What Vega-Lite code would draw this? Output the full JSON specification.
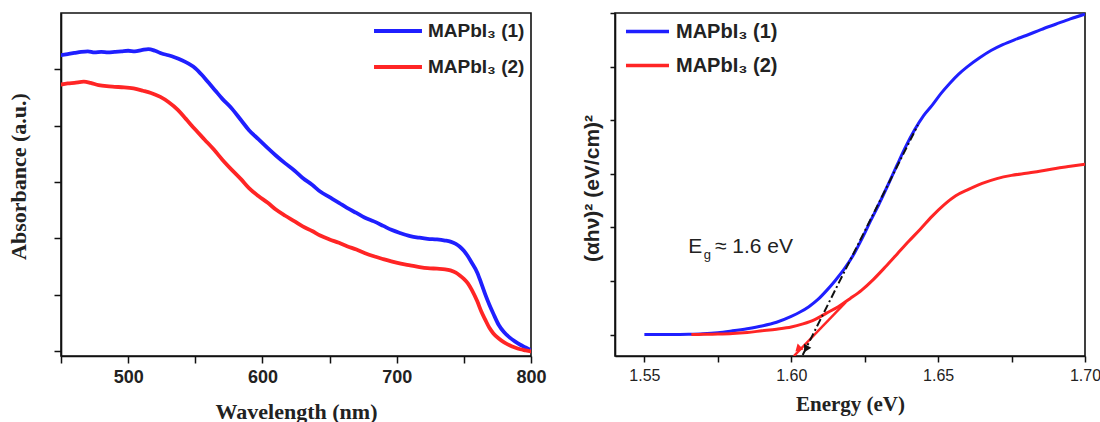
{
  "$schema": "https://vega.github.io/schema/vega-lite/v6.json",
  "background": "white",
  "padding": {"left": 6, "top": 4, "right": 0, "bottom": 0},
  "spacing": 33,
  "config": {
    "view": {"stroke": "#111", "strokeWidth": 1.6},
    "axis": {"domainColor": "#111", "tickColor": "#111", "domainWidth": 1.6, "tickWidth": 1.5, "grid": false, "labelColor": "#222", "titleColor": "#222", "labelFlush": false}
  },
  "resolve": {"scale": {"color": "independent"}, "legend": {"color": "independent"}},
  "datasets": {
    "abs": [
      {"wl":450,"a":5.25,"s":"MAPbI₃ (1)"},{"wl":455,"a":5.27,"s":"MAPbI₃ (1)"},{"wl":460,"a":5.29,"s":"MAPbI₃ (1)"},{"wl":465,"a":5.31,"s":"MAPbI₃ (1)"},{"wl":470,"a":5.32,"s":"MAPbI₃ (1)"},{"wl":475,"a":5.30,"s":"MAPbI₃ (1)"},{"wl":480,"a":5.31,"s":"MAPbI₃ (1)"},{"wl":485,"a":5.30,"s":"MAPbI₃ (1)"},{"wl":490,"a":5.31,"s":"MAPbI₃ (1)"},{"wl":495,"a":5.32,"s":"MAPbI₃ (1)"},{"wl":500,"a":5.33,"s":"MAPbI₃ (1)"},{"wl":505,"a":5.32,"s":"MAPbI₃ (1)"},{"wl":510,"a":5.34,"s":"MAPbI₃ (1)"},{"wl":515,"a":5.36,"s":"MAPbI₃ (1)"},{"wl":520,"a":5.33,"s":"MAPbI₃ (1)"},{"wl":525,"a":5.28,"s":"MAPbI₃ (1)"},{"wl":530,"a":5.25,"s":"MAPbI₃ (1)"},{"wl":535,"a":5.21,"s":"MAPbI₃ (1)"},{"wl":540,"a":5.16,"s":"MAPbI₃ (1)"},{"wl":545,"a":5.10,"s":"MAPbI₃ (1)"},{"wl":550,"a":5.02,"s":"MAPbI₃ (1)"},{"wl":555,"a":4.90,"s":"MAPbI₃ (1)"},{"wl":560,"a":4.76,"s":"MAPbI₃ (1)"},{"wl":565,"a":4.62,"s":"MAPbI₃ (1)"},{"wl":570,"a":4.48,"s":"MAPbI₃ (1)"},{"wl":577,"a":4.31,"s":"MAPbI₃ (1)"},{"wl":584,"a":4.10,"s":"MAPbI₃ (1)"},{"wl":590,"a":3.92,"s":"MAPbI₃ (1)"},{"wl":597,"a":3.76,"s":"MAPbI₃ (1)"},{"wl":604,"a":3.60,"s":"MAPbI₃ (1)"},{"wl":610,"a":3.47,"s":"MAPbI₃ (1)"},{"wl":617,"a":3.33,"s":"MAPbI₃ (1)"},{"wl":624,"a":3.20,"s":"MAPbI₃ (1)"},{"wl":630,"a":3.07,"s":"MAPbI₃ (1)"},{"wl":637,"a":2.95,"s":"MAPbI₃ (1)"},{"wl":643,"a":2.83,"s":"MAPbI₃ (1)"},{"wl":650,"a":2.73,"s":"MAPbI₃ (1)"},{"wl":657,"a":2.63,"s":"MAPbI₃ (1)"},{"wl":663,"a":2.54,"s":"MAPbI₃ (1)"},{"wl":670,"a":2.45,"s":"MAPbI₃ (1)"},{"wl":676,"a":2.37,"s":"MAPbI₃ (1)"},{"wl":683,"a":2.30,"s":"MAPbI₃ (1)"},{"wl":690,"a":2.22,"s":"MAPbI₃ (1)"},{"wl":696,"a":2.15,"s":"MAPbI₃ (1)"},{"wl":703,"a":2.09,"s":"MAPbI₃ (1)"},{"wl":710,"a":2.04,"s":"MAPbI₃ (1)"},{"wl":717,"a":2.01,"s":"MAPbI₃ (1)"},{"wl":723,"a":1.99,"s":"MAPbI₃ (1)"},{"wl":730,"a":1.98,"s":"MAPbI₃ (1)"},{"wl":736,"a":1.96,"s":"MAPbI₃ (1)"},{"wl":740,"a":1.94,"s":"MAPbI₃ (1)"},{"wl":744,"a":1.90,"s":"MAPbI₃ (1)"},{"wl":747,"a":1.85,"s":"MAPbI₃ (1)"},{"wl":750,"a":1.78,"s":"MAPbI₃ (1)"},{"wl":753,"a":1.68,"s":"MAPbI₃ (1)"},{"wl":756,"a":1.56,"s":"MAPbI₃ (1)"},{"wl":760,"a":1.39,"s":"MAPbI₃ (1)"},{"wl":763,"a":1.20,"s":"MAPbI₃ (1)"},{"wl":766,"a":1.00,"s":"MAPbI₃ (1)"},{"wl":769,"a":0.82,"s":"MAPbI₃ (1)"},{"wl":772,"a":0.66,"s":"MAPbI₃ (1)"},{"wl":776,"a":0.46,"s":"MAPbI₃ (1)"},{"wl":780,"a":0.33,"s":"MAPbI₃ (1)"},{"wl":784,"a":0.24,"s":"MAPbI₃ (1)"},{"wl":788,"a":0.17,"s":"MAPbI₃ (1)"},{"wl":792,"a":0.11,"s":"MAPbI₃ (1)"},{"wl":796,"a":0.06,"s":"MAPbI₃ (1)"},{"wl":800,"a":0.01,"s":"MAPbI₃ (1)"},
      {"wl":450,"a":4.73,"s":"MAPbI₃ (2)"},{"wl":455,"a":4.75,"s":"MAPbI₃ (2)"},{"wl":460,"a":4.76,"s":"MAPbI₃ (2)"},{"wl":467,"a":4.78,"s":"MAPbI₃ (2)"},{"wl":472,"a":4.76,"s":"MAPbI₃ (2)"},{"wl":478,"a":4.72,"s":"MAPbI₃ (2)"},{"wl":484,"a":4.70,"s":"MAPbI₃ (2)"},{"wl":490,"a":4.69,"s":"MAPbI₃ (2)"},{"wl":497,"a":4.68,"s":"MAPbI₃ (2)"},{"wl":504,"a":4.66,"s":"MAPbI₃ (2)"},{"wl":511,"a":4.62,"s":"MAPbI₃ (2)"},{"wl":517,"a":4.58,"s":"MAPbI₃ (2)"},{"wl":524,"a":4.51,"s":"MAPbI₃ (2)"},{"wl":530,"a":4.42,"s":"MAPbI₃ (2)"},{"wl":537,"a":4.28,"s":"MAPbI₃ (2)"},{"wl":543,"a":4.12,"s":"MAPbI₃ (2)"},{"wl":550,"a":3.93,"s":"MAPbI₃ (2)"},{"wl":557,"a":3.75,"s":"MAPbI₃ (2)"},{"wl":564,"a":3.57,"s":"MAPbI₃ (2)"},{"wl":570,"a":3.40,"s":"MAPbI₃ (2)"},{"wl":577,"a":3.22,"s":"MAPbI₃ (2)"},{"wl":584,"a":3.05,"s":"MAPbI₃ (2)"},{"wl":590,"a":2.89,"s":"MAPbI₃ (2)"},{"wl":597,"a":2.75,"s":"MAPbI₃ (2)"},{"wl":604,"a":2.63,"s":"MAPbI₃ (2)"},{"wl":610,"a":2.51,"s":"MAPbI₃ (2)"},{"wl":617,"a":2.40,"s":"MAPbI₃ (2)"},{"wl":624,"a":2.30,"s":"MAPbI₃ (2)"},{"wl":630,"a":2.21,"s":"MAPbI₃ (2)"},{"wl":637,"a":2.13,"s":"MAPbI₃ (2)"},{"wl":643,"a":2.05,"s":"MAPbI₃ (2)"},{"wl":650,"a":1.98,"s":"MAPbI₃ (2)"},{"wl":657,"a":1.92,"s":"MAPbI₃ (2)"},{"wl":663,"a":1.86,"s":"MAPbI₃ (2)"},{"wl":670,"a":1.80,"s":"MAPbI₃ (2)"},{"wl":676,"a":1.74,"s":"MAPbI₃ (2)"},{"wl":683,"a":1.68,"s":"MAPbI₃ (2)"},{"wl":690,"a":1.63,"s":"MAPbI₃ (2)"},{"wl":696,"a":1.59,"s":"MAPbI₃ (2)"},{"wl":703,"a":1.55,"s":"MAPbI₃ (2)"},{"wl":710,"a":1.52,"s":"MAPbI₃ (2)"},{"wl":717,"a":1.49,"s":"MAPbI₃ (2)"},{"wl":723,"a":1.47,"s":"MAPbI₃ (2)"},{"wl":730,"a":1.46,"s":"MAPbI₃ (2)"},{"wl":736,"a":1.45,"s":"MAPbI₃ (2)"},{"wl":740,"a":1.43,"s":"MAPbI₃ (2)"},{"wl":744,"a":1.39,"s":"MAPbI₃ (2)"},{"wl":747,"a":1.34,"s":"MAPbI₃ (2)"},{"wl":750,"a":1.28,"s":"MAPbI₃ (2)"},{"wl":753,"a":1.20,"s":"MAPbI₃ (2)"},{"wl":756,"a":1.08,"s":"MAPbI₃ (2)"},{"wl":760,"a":0.88,"s":"MAPbI₃ (2)"},{"wl":763,"a":0.70,"s":"MAPbI₃ (2)"},{"wl":766,"a":0.55,"s":"MAPbI₃ (2)"},{"wl":769,"a":0.41,"s":"MAPbI₃ (2)"},{"wl":772,"a":0.31,"s":"MAPbI₃ (2)"},{"wl":776,"a":0.22,"s":"MAPbI₃ (2)"},{"wl":780,"a":0.15,"s":"MAPbI₃ (2)"},{"wl":784,"a":0.10,"s":"MAPbI₃ (2)"},{"wl":788,"a":0.06,"s":"MAPbI₃ (2)"},{"wl":792,"a":0.03,"s":"MAPbI₃ (2)"},{"wl":796,"a":0.01,"s":"MAPbI₃ (2)"},{"wl":800,"a":-0.01,"s":"MAPbI₃ (2)"}
    ],
    "tauc": [
      {"e":1.550,"v":0,"s":"MAPbI₃ (1)"},{"e":1.555,"v":0,"s":"MAPbI₃ (1)"},{"e":1.560,"v":0,"s":"MAPbI₃ (1)"},{"e":1.565,"v":0.005,"s":"MAPbI₃ (1)"},{"e":1.570,"v":0.015,"s":"MAPbI₃ (1)"},{"e":1.575,"v":0.035,"s":"MAPbI₃ (1)"},{"e":1.580,"v":0.07,"s":"MAPbI₃ (1)"},{"e":1.585,"v":0.11,"s":"MAPbI₃ (1)"},{"e":1.590,"v":0.16,"s":"MAPbI₃ (1)"},{"e":1.595,"v":0.23,"s":"MAPbI₃ (1)"},{"e":1.600,"v":0.34,"s":"MAPbI₃ (1)"},{"e":1.603,"v":0.42,"s":"MAPbI₃ (1)"},{"e":1.606,"v":0.52,"s":"MAPbI₃ (1)"},{"e":1.609,"v":0.65,"s":"MAPbI₃ (1)"},{"e":1.612,"v":0.82,"s":"MAPbI₃ (1)"},{"e":1.615,"v":1.01,"s":"MAPbI₃ (1)"},{"e":1.618,"v":1.22,"s":"MAPbI₃ (1)"},{"e":1.621,"v":1.47,"s":"MAPbI₃ (1)"},{"e":1.624,"v":1.78,"s":"MAPbI₃ (1)"},{"e":1.627,"v":2.12,"s":"MAPbI₃ (1)"},{"e":1.630,"v":2.45,"s":"MAPbI₃ (1)"},{"e":1.633,"v":2.80,"s":"MAPbI₃ (1)"},{"e":1.636,"v":3.16,"s":"MAPbI₃ (1)"},{"e":1.639,"v":3.51,"s":"MAPbI₃ (1)"},{"e":1.642,"v":3.82,"s":"MAPbI₃ (1)"},{"e":1.645,"v":4.08,"s":"MAPbI₃ (1)"},{"e":1.648,"v":4.28,"s":"MAPbI₃ (1)"},{"e":1.651,"v":4.50,"s":"MAPbI₃ (1)"},{"e":1.654,"v":4.69,"s":"MAPbI₃ (1)"},{"e":1.657,"v":4.86,"s":"MAPbI₃ (1)"},{"e":1.660,"v":5.00,"s":"MAPbI₃ (1)"},{"e":1.664,"v":5.16,"s":"MAPbI₃ (1)"},{"e":1.668,"v":5.30,"s":"MAPbI₃ (1)"},{"e":1.672,"v":5.41,"s":"MAPbI₃ (1)"},{"e":1.676,"v":5.50,"s":"MAPbI₃ (1)"},{"e":1.680,"v":5.58,"s":"MAPbI₃ (1)"},{"e":1.685,"v":5.69,"s":"MAPbI₃ (1)"},{"e":1.690,"v":5.79,"s":"MAPbI₃ (1)"},{"e":1.695,"v":5.89,"s":"MAPbI₃ (1)"},{"e":1.700,"v":5.98,"s":"MAPbI₃ (1)"},
      {"e":1.566,"v":0,"s":"MAPbI₃ (2)"},{"e":1.570,"v":0.005,"s":"MAPbI₃ (2)"},{"e":1.575,"v":0.01,"s":"MAPbI₃ (2)"},{"e":1.580,"v":0.02,"s":"MAPbI₃ (2)"},{"e":1.585,"v":0.04,"s":"MAPbI₃ (2)"},{"e":1.590,"v":0.07,"s":"MAPbI₃ (2)"},{"e":1.595,"v":0.10,"s":"MAPbI₃ (2)"},{"e":1.600,"v":0.14,"s":"MAPbI₃ (2)"},{"e":1.604,"v":0.20,"s":"MAPbI₃ (2)"},{"e":1.608,"v":0.28,"s":"MAPbI₃ (2)"},{"e":1.612,"v":0.40,"s":"MAPbI₃ (2)"},{"e":1.616,"v":0.52,"s":"MAPbI₃ (2)"},{"e":1.620,"v":0.67,"s":"MAPbI₃ (2)"},{"e":1.624,"v":0.83,"s":"MAPbI₃ (2)"},{"e":1.628,"v":1.03,"s":"MAPbI₃ (2)"},{"e":1.632,"v":1.26,"s":"MAPbI₃ (2)"},{"e":1.636,"v":1.50,"s":"MAPbI₃ (2)"},{"e":1.640,"v":1.74,"s":"MAPbI₃ (2)"},{"e":1.644,"v":1.97,"s":"MAPbI₃ (2)"},{"e":1.648,"v":2.21,"s":"MAPbI₃ (2)"},{"e":1.652,"v":2.42,"s":"MAPbI₃ (2)"},{"e":1.656,"v":2.59,"s":"MAPbI₃ (2)"},{"e":1.660,"v":2.70,"s":"MAPbI₃ (2)"},{"e":1.665,"v":2.82,"s":"MAPbI₃ (2)"},{"e":1.670,"v":2.91,"s":"MAPbI₃ (2)"},{"e":1.675,"v":2.97,"s":"MAPbI₃ (2)"},{"e":1.680,"v":3.01,"s":"MAPbI₃ (2)"},{"e":1.685,"v":3.05,"s":"MAPbI₃ (2)"},{"e":1.690,"v":3.10,"s":"MAPbI₃ (2)"},{"e":1.695,"v":3.14,"s":"MAPbI₃ (2)"},{"e":1.700,"v":3.18,"s":"MAPbI₃ (2)"}
    ],
    "tanBlack": [{"e":1.6039,"v":-0.38},{"e":1.6431,"v":3.91}],
    "tanRed": [{"e":1.6009,"v":-0.40},{"e":1.6185,"v":0.60}],
    "arrowBlack": [{"e":1.6050,"v":-0.27}],
    "arrowRed": [{"e":1.6023,"v":-0.27}],
    "noteE": [{"e":1.5649,"v":1.52,"t":"E"}],
    "noteG": [{"e":1.5702,"v":1.41,"t":"g"}],
    "noteRest": [{"e":1.5740,"v":1.52,"t":"≈ 1.6 eV"}]
  },
  "hconcat": [
    {
      "width": 470,
      "height": 343,
      "data": {"name": "abs"},
      "mark": {"type": "line", "strokeWidth": 3.8, "strokeCap": "round", "interpolate": "monotone", "clip": true},
      "encoding": {
        "x": {"field": "wl", "type": "quantitative", "scale": {"domain": [450, 800], "nice": false, "zero": false},
          "axis": {"values": [450,500,550,600,650,700,750,800], "labelExpr": "datum.value % 100 === 0 ? datum.label : ''", "title": "Wavelength (nm)", "titleFont": "Liberation Serif", "titleFontSize": 22, "titleFontWeight": "bold", "labelFont": "Liberation Sans", "labelFontSize": 18, "labelFontWeight": "bold", "tickSize": 7, "labelPadding": 5, "titlePadding": 15}},
        "y": {"field": "a", "type": "quantitative", "scale": {"domain": [-0.09, 6], "nice": false, "zero": false},
          "axis": {"values": [0,1,2,3,4,5], "labels": false, "tickSize": 7, "title": "Absorbance (a.u.)", "titleFont": "Liberation Serif", "titleFontSize": 22, "titleFontWeight": "bold", "titlePadding": 23, "titleY": 163}},
        "color": {"field": "s", "type": "nominal", "scale": {"domain": ["MAPbI₃ (1)", "MAPbI₃ (2)"], "range": ["#1f1fff", "#ff2525"]},
          "legend": {"orient": "none", "legendX": 311, "legendY": -8, "title": null, "symbolType": "stroke", "symbolSize": 2300, "symbolStrokeWidth": 4, "labelFont": "Liberation Sans", "labelFontSize": 19, "labelFontWeight": "bold", "labelColor": "#222", "labelOffset": 4, "rowPadding": -17}}
      }
    },
    {
      "width": 470,
      "height": 343,
      "layer": [
        {
          "data": {"name": "tauc"},
          "mark": {"type": "line", "strokeWidth": 3, "interpolate": "monotone", "clip": true},
          "encoding": {
            "x": {"field": "e", "type": "quantitative", "scale": {"domain": [1.54, 1.70], "nice": false, "zero": false},
              "axis": {"values": [1.55,1.575,1.6,1.625,1.65,1.675,1.7], "format": ".2f", "labelExpr": "indexof(['1.55','1.60','1.65','1.70'], datum.label) >= 0 ? datum.label : ''", "title": "Energy (eV)", "titleFont": "Liberation Serif", "titleFontSize": 21, "titleFontWeight": "bold", "labelFont": "Liberation Sans", "labelFontSize": 16, "tickSize": 6, "labelPadding": 5, "titlePadding": 10}},
            "y": {"field": "v", "type": "quantitative", "scale": {"domain": [-0.4, 6], "nice": false, "zero": false},
              "axis": {"values": [0,1,2,3,4,5,6], "labels": false, "tickSize": 5, "title": "(αhν)² (eV/cm)²", "titleFont": "Liberation Sans", "titleFontSize": 21, "titleFontWeight": "bold", "titlePadding": 7, "titleY": 175}},
            "color": {"field": "s", "type": "nominal", "scale": {"domain": ["MAPbI₃ (1)", "MAPbI₃ (2)"], "range": ["#1f1fff", "#ff2525"]},
              "legend": {"orient": "none", "legendX": 9, "legendY": -5, "title": null, "symbolType": "stroke", "symbolSize": 1850, "symbolStrokeWidth": 3.5, "labelFont": "Liberation Sans", "labelFontSize": 20, "labelFontWeight": "bold", "labelColor": "#222", "labelOffset": 5, "rowPadding": -10}}
          }
        },
        {
          "data": {"name": "tanRed"},
          "mark": {"type": "line", "color": "#ff2525", "strokeWidth": 2.5, "clip": true},
          "encoding": {"x": {"field": "e", "type": "quantitative"}, "y": {"field": "v", "type": "quantitative"}}
        },
        {
          "data": {"name": "tanBlack"},
          "mark": {"type": "line", "color": "#111", "strokeWidth": 2, "strokeDash": [8, 3, 2, 3], "clip": true},
          "encoding": {"x": {"field": "e", "type": "quantitative"}, "y": {"field": "v", "type": "quantitative"}}
        },
        {
          "data": {"name": "arrowRed"},
          "mark": {"type": "point", "shape": "triangle-down", "filled": true, "color": "#ff2525", "size": 70, "angle": 45, "opacity": 1},
          "encoding": {"x": {"field": "e", "type": "quantitative"}, "y": {"field": "v", "type": "quantitative"}}
        },
        {
          "data": {"name": "arrowBlack"},
          "mark": {"type": "point", "shape": "triangle-down", "filled": true, "color": "#111", "size": 70, "angle": 28, "opacity": 1},
          "encoding": {"x": {"field": "e", "type": "quantitative"}, "y": {"field": "v", "type": "quantitative"}}
        },
        {
          "data": {"name": "noteE"},
          "mark": {"type": "text", "align": "left", "baseline": "alphabetic", "font": "Liberation Sans", "fontSize": 21, "color": "#222"},
          "encoding": {"x": {"field": "e", "type": "quantitative"}, "y": {"field": "v", "type": "quantitative"}, "text": {"field": "t"}}
        },
        {
          "data": {"name": "noteG"},
          "mark": {"type": "text", "align": "left", "baseline": "alphabetic", "font": "Liberation Sans", "fontSize": 13, "color": "#222"},
          "encoding": {"x": {"field": "e", "type": "quantitative"}, "y": {"field": "v", "type": "quantitative"}, "text": {"field": "t"}}
        },
        {
          "data": {"name": "noteRest"},
          "mark": {"type": "text", "align": "left", "baseline": "alphabetic", "font": "Liberation Sans", "fontSize": 21, "color": "#222"},
          "encoding": {"x": {"field": "e", "type": "quantitative"}, "y": {"field": "v", "type": "quantitative"}, "text": {"field": "t"}}
        }
      ]
    }
  ]
}
